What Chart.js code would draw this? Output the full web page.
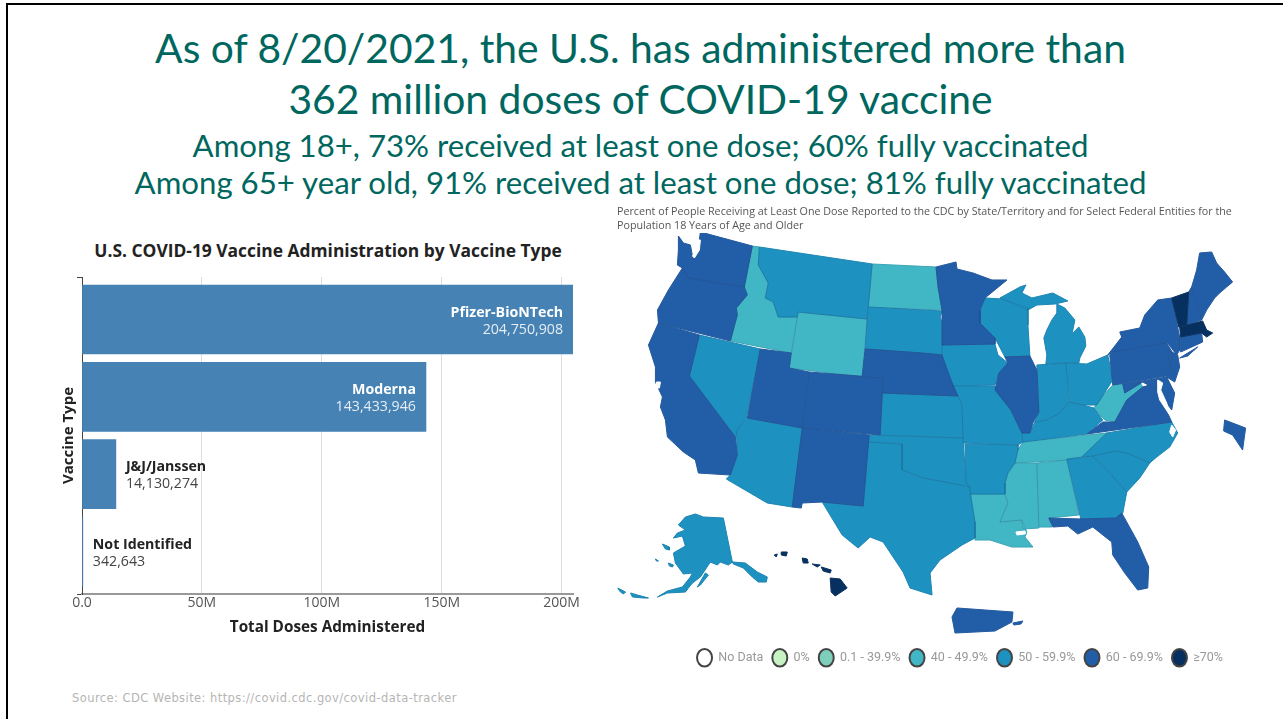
<!DOCTYPE html>
<html>
<head>
<meta charset="utf-8">
<title>COVID-19 vaccine doses</title>
<script src="https://cdn.jsdelivr.net/npm/chart.js@4"></script>
<style>
html, body { margin: 0; padding: 0; background: #fff; width: 1283px; height: 719px; overflow: hidden; }
#frameTop { position: absolute; left: 6px; top: 3px; right: 0; height: 2px; background: #000; }
#frameLeft { position: absolute; left: 6px; top: 3px; bottom: 0; width: 2px; background: #000; }
.head { position: absolute; left: 0; width: 1281px; text-align: center; color: #00675f; font-family: Lato, sans-serif; white-space: nowrap; }
.big { font-size: 40.8px; }
.small { font-size: 31.2px; }
#barTitle { position: absolute; left: 40px; top: 238px; width: 576px; height: 24px; text-align: center; font: bold 17.4px/24px "Open Sans", sans-serif; color: #222; white-space: nowrap; }
#source { position: absolute; left: 72px; top: 691px; font: 11.5px "DejaVu Sans", sans-serif; letter-spacing: 0.43px; color: #b5b5b5; white-space: nowrap; }
canvas { position: absolute; }
#barChart { left: 60px; top: 272px; }
#mapChart { left: 617px; top: 205px; }
</style>
</head>
<body>
<div id="frameTop"></div>
<div id="frameLeft"></div>
<div class="head big" style="top:23px">As of 8/20/2021, the U.S. has administered more than</div>
<div class="head big" style="top:74px">362 million doses of COVID-19 vaccine</div>
<div class="head small" style="top:126px">Among 18+, 73% received at least one dose; 60% fully vaccinated</div>
<div class="head small" style="top:163px">Among 65+ year old, 91% received at least one dose; 81% fully vaccinated</div>
<div id="barTitle">U.S. COVID-19 Vaccine Administration by Vaccine Type</div>
<canvas id="barChart" width="540" height="368"></canvas>
<canvas id="mapChart" width="686" height="469"></canvas>
<div id="source">Source: CDC Website: https://covid.cdc.gov/covid-data-tracker</div>
<script>
const vaccineTypes = ['Pfizer-BioNTech', 'Moderna', 'J&J/Janssen', 'Not Identified'];
const totalDoses = [204750908, 143433946, 14130274, 342643];
const doseTicks = [0, 50000000, 100000000, 150000000, 200000000];

const legendLabels = ['No Data', '0%', '0.1 - 39.9%', '40 - 49.9%', '50 - 59.9%', '60 - 69.9%', '≥70%'];
const legendColors = ['#ffffff', '#c7f2c4', '#7fcdbb', '#41b6c4', '#1d91c0', '#225ea8', '#06305f'];

// states per legend bin
const bin40 = ['ID', 'WY', 'ND', 'TN', 'MS', 'AL', 'LA', 'WV'];
const bin50 = ['NV', 'MT', 'AZ', 'SD', 'KS', 'OK', 'TX', 'IA', 'MO', 'AR', 'WI', 'MI', 'MI2', 'IN', 'OH', 'KY', 'NC', 'SC', 'GA', 'AK', 'AK2', 'AK3', 'AK4', 'AK5', 'AK6', 'AK7', 'AK8'];
const bin60 = ['WA', 'OR', 'CA', 'UT', 'CO', 'NM', 'NE', 'MN', 'IL', 'FL', 'NY', 'LI', 'PA', 'NJ', 'MD', 'VA', 'CT', 'ME', 'NH', 'PR', 'PR2', 'DC'];
const bin70 = ['VT', 'MA', 'HI', 'HI2', 'HI3', 'HI4', 'HI5', 'HI6'];

// outlines, x,y pairs in map units
const shapes = {
  WA: [678,236,683,243,690,245,692,256,697,250,699,240,700,232,752,246,744,287,716,283,700,280,688,278,682,268,677,265,678,250],
  OR: [682,268,688,278,700,280,716,283,744,287,747,295,736,308,737,315,730,341,658,323,657,310,668,290],
  CA: [658,323,699,335,689,376,735,437,737,455,730,475,698,473,695,460,683,452,667,437,665,420,660,407,662,397,655,382,655,367,648,345],
  NV: [699,335,760,349,746,418,737,430,735,437,689,376],
  ID: [752,246,759,247,758,265,768,283,765,298,773,302,778,317,797,317,791,353,730,341,737,315,736,308,747,295,744,287],
  MT: [759,247,872,264,867,319,798,312,797,317,778,317,773,302,765,298,768,283,758,265],
  ND: [872,264,936,267,938,287,942,310,868,307],
  SD: [868,307,942,311,940,317,943,325,942,355,922,353,865,349],
  WY: [798,312,867,319,862,377,789,368],
  NE: [865,349,922,353,942,355,948,372,953,385,958,396,882,393,883,378,862,377],
  UT: [760,349,791,353,789,368,809,372,802,428,747,418],
  CO: [809,372,883,378,880,435,802,428],
  AZ: [736,430,747,418,802,428,792,507,767,503,726,479,730,475,737,455],
  NM: [802,428,869,435,863,506,822,502,802,503,801,508,792,507],
  KS: [882,393,958,396,962,405,963,438,880,435],
  OK: [869,435,963,438,966,483,970,487,950,483,923,478,902,470,902,444,868,442],
  TX: [868,442,902,444,902,470,923,478,950,483,970,487,971,497,975,522,975,538,962,545,940,560,930,573,932,595,910,588,903,572,883,542,870,537,858,548,842,535,822,502,863,506],
  MN: [936,267,956,262,957,269,973,273,992,280,1007,280,985,298,980,310,980,323,995,338,995,344,942,345,942,325,942,310,938,287],
  IA: [942,345,995,344,998,355,1008,363,1007,368,999,373,995,385,952,386,942,358],
  WI: [985,298,1003,299,1028,308,1028,325,1030,356,1005,357,995,338,980,323,980,310],
  MI: [1000,298,1020,287,1026,285,1022,293,1032,298,1053,293,1068,301,1055,304,1037,305,1028,310],
  MI2: [1057,304,1065,308,1075,320,1073,330,1072,334,1079,327,1085,337,1086,346,1080,358,1079,363,1066,363,1046,364,1047,355,1044,338,1047,330,1052,320,1057,313],
  IL: [1005,357,1030,356,1037,370,1039,412,1033,423,1030,433,1022,433,1011,410,995,390,999,373,1008,363],
  IN: [1037,365,1066,363,1069,402,1060,413,1047,420,1035,422,1039,412],
  OH: [1066,363,1087,364,1108,355,1113,380,1097,405,1083,405,1070,402],
  KY: [1035,422,1047,420,1060,413,1069,402,1083,405,1094,408,1103,420,1087,434,1023,442,1022,433,1030,433],
  WV: [1113,385,1123,384,1125,393,1140,382,1143,387,1127,400,1115,422,1105,420,1094,408,1102,397],
  VA: [1087,434,1103,422,1115,422,1127,400,1143,387,1150,385,1158,388,1163,402,1172,422],
  MD: [1123,384,1167,377,1175,393,1172,410,1167,403,1158,390,1143,382,1125,393],
  PA: [1110,355,1113,352,1167,343,1173,353,1170,367,1167,376,1113,385],
  NY: [1108,355,1122,337,1120,332,1140,328,1145,315,1158,300,1172,298,1180,337,1180,350,1177,355,1168,343,1113,352],
  LI: [1180,358,1198,347,1188,356],
  NJ: [1168,350,1178,355,1180,367,1175,382,1167,377,1170,367],
  VT: [1172,298,1189,292,1187,325,1179,327],
  NH: [1189,292,1192,287,1202,320,1187,325],
  ME: [1197,270,1200,253,1212,252,1217,263,1225,272,1233,282,1227,287,1220,293,1215,298,1207,310,1202,320,1192,287],
  MA: [1180,327,1203,321,1207,330,1213,333,1207,337,1202,333,1181,337],
  CT: [1181,337,1202,333,1203,342,1181,352],
  DC: [1225,420,1246,428,1243,450,1233,435,1224,431],
  MO: [952,386,995,386,1011,410,1022,433,1023,442,1018,445,963,443,962,405,958,396],
  AR: [965,444,1018,445,1018,450,1015,463,1008,473,1005,483,1005,494,970,494,970,487,966,483],
  LA: [970,494,1005,494,1008,503,1000,522,1022,520,1027,532,1025,537,1033,547,1012,547,990,540,975,540,975,523],
  MS: [1015,463,1037,463,1039,528,1023,529,1022,520,1000,522,1008,503,1005,494,1005,483,1008,473],
  AL: [1037,463,1067,460,1079,515,1049,518,1052,527,1039,527],
  TN: [1023,442,1088,435,1107,433,1082,457,1067,460,1015,463,1018,450],
  NC: [1107,433,1172,422,1178,433,1170,447,1157,457,1150,463,1127,453,1115,451,1093,456,1082,457],
  SC: [1093,456,1115,451,1127,453,1150,463,1140,478,1127,492,1107,470],
  GA: [1067,459,1093,456,1107,470,1127,492,1123,513,1116,518,1081,519],
  FL: [1049,518,1081,519,1116,518,1122,513,1138,542,1149,567,1148,588,1138,590,1125,573,1113,555,1112,542,1093,527,1078,534,1068,526,1053,527],
  PR: [952,617,957,608,1013,612,1012,622,995,631,955,633],
  PR2: [1013,623,1023,621,1021,624,1014,625],
  AK: [678,525,685,517,695,514,703,517,723,518,732,562,728,565,720,562,717,565,710,562,708,565,700,577,692,583,688,588,685,592,667,593,657,597,667,591,682,587,690,577,692,573,683,574,675,563,673,553,685,546,682,536,673,538,677,533,685,530],
  AK2: [732,562,745,563,757,572,767,577,766,582,758,582,752,577,743,568,733,564],
  AK3: [630,593,637,595,648,598,643,598,632,597],
  AK4: [617,588,625,592,623,594,620,592],
  AK5: [662,544,669,547,669,550,665,549],
  AK6: [705,573,708,575,700,585,697,587],
  AK7: [655,559,658,561,656,561],
  AK8: [668,563,673,565,672,567,669,566],
  HI: [830,578,840,579,847,588,835,596,831,592],
  HI2: [821,567,831,570,830,573,823,571],
  HI3: [812,564,820,565,817,567],
  HI4: [802,558,807,559,808,563,803,563],
  HI5: [781,552,787,552,786,556,781,555],
  HI6: [774,555,777,554,776,557]
};
// bays cut back out of the land
const water = [
  [692,256,696,250,698,240,700,240,699,250,694,258],
  [1158,380,1163,383,1161,390,1167,403,1170,415,1160,400,1158,392],
  [1172,425,1176,430,1173,437,1170,432],
  [656,382,660,382,659,388,656,388],
  [1016,532,1025,531,1025,534,1017,535]
];

function toPoints(flat) {
  var pts = [];
  for (var i = 0; i < flat.length; i += 2) {
    pts.push({ x: flat[i], y: flat[i + 1] });
  }
  pts.push({ x: flat[0], y: flat[1] });
  return pts;
}

function shapeDataset(flat, color) {
  return {
    data: toPoints(flat),
    showLine: true,
    fill: 'shape',
    backgroundColor: color,
    borderColor: color,
    borderWidth: 1,
    tension: 0,
    pointRadius: 0
  };
}

// thin state line on top of the fills
function borderDataset(flat) {
  return {
    data: toPoints(flat),
    showLine: true,
    fill: false,
    borderColor: 'rgba(50,70,100,0.3)',
    borderWidth: 0.5,
    tension: 0,
    pointRadius: 0
  };
}

// value labels sit on the bars
const barLabels = {
  id: 'barLabels',
  afterDatasetsDraw(chart) {
    const ctx = chart.ctx;
    const bars = chart.getDatasetMeta(0).data;
    ctx.save();
    bars.forEach((bar, i) => {
      const inside = totalDoses[i] > 100000000;
      const x = inside ? bar.x - 10 : bar.x + 10;
      ctx.textAlign = inside ? 'right' : 'left';
      ctx.textBaseline = 'middle';
      ctx.fillStyle = inside ? '#ffffff' : '#222222';
      ctx.font = 'bold 14.2px "Open Sans"';
      ctx.fillText(vaccineTypes[i], x, bar.y - 7);
      ctx.fillStyle = inside ? '#e6edf4' : '#444444';
      ctx.font = '14.2px "Open Sans"';
      ctx.fillText(totalDoses[i].toLocaleString('en-US'), x, bar.y + 10);
    });
    ctx.restore();
  }
};

var barChart = new Chart(document.getElementById('barChart'), {
  type: 'bar',
  data: {
    datasets: [{
      data: totalDoses.map((v, i) => ({ x: v, y: i })),
      backgroundColor: '#4682b4',
      barThickness: 69
    }]
  },
  options: {
    indexAxis: 'y',
    responsive: false,
    animation: false,
    layout: { padding: { top: 5, right: 27 } },
    plugins: {
      legend: { display: false },
      tooltip: { enabled: false }
    },
    scales: {
      x: {
        type: 'linear',
        min: 0,
        max: totalDoses[0],
        afterFit: (s) => { s.height = 46; },
        afterBuildTicks: (s) => { s.ticks = doseTicks.map((v) => ({ value: v })); },
        grid: { color: '#dddddd', drawTicks: false },
        border: { color: '#999999', width: 2 },
        ticks: {
          padding: 1,
          maxRotation: 0,
          autoSkip: false,
          color: '#555',
          font: { family: 'Open Sans', size: 14 },
          callback: (v) => (v === 0 ? '0.0' : v / 1000000 + 'M')
        },
        title: {
          display: true,
          text: 'Total Doses Administered',
          color: '#222',
          font: { family: 'Open Sans', size: 15.3, weight: 'bold' },
          padding: { top: 4, bottom: 3 }
        }
      },
      y: {
        type: 'linear',
        reverse: true,
        offset: false,
        min: -0.55,
        max: 3.55,
        afterFit: (s) => { s.width = 22; },
        afterBuildTicks: (s) => { s.ticks = [{ value: -0.55 }, { value: 3.55 }]; },
        grid: { offset: false, drawOnChartArea: false, color: '#444', tickLength: 5 },
        border: { color: '#444' },
        ticks: { display: false },
        title: {
          display: true,
          text: 'Vaccine Type',
          color: '#222',
          font: { family: 'Open Sans', size: 15, weight: 'bold' },
          padding: { top: 0, bottom: 0 }
        }
      }
    }
  },
  plugins: [barLabels]
});

// first dataset is drawn last, so water and state lines go in front
var mapSets = [];
water.forEach((w) => mapSets.push(shapeDataset(w, '#ffffff')));
var fillSets = [];
[[bin70, 6], [bin60, 5], [bin50, 4], [bin40, 3]].forEach((b) => {
  b[0].forEach((name) => {
    mapSets.push(borderDataset(shapes[name]));
    fillSets.push(shapeDataset(shapes[name], legendColors[b[1]]));
  });
});
mapSets = mapSets.concat(fillSets);

var mapCanvas = document.getElementById('mapChart');
var mapChart = new Chart(mapCanvas, {
  type: 'scatter',
  data: { datasets: mapSets },
  options: {
    responsive: false,
    animation: false,
    plugins: {
      tooltip: { enabled: false },
      title: {
        display: true,
        align: 'start',
        text: [
          'Percent of People Receiving at Least One Dose Reported to the CDC by State/Territory and for Select Federal Entities for the',
          'Population 18 Years of Age and Older'
        ],
        color: '#555',
        font: { family: 'Open Sans', size: 10.73, weight: 'normal', lineHeight: 1.31 },
        padding: { top: 0, bottom: 0 }
      },
      legend: {
        position: 'bottom',
        labels: {
          usePointStyle: true,
          boxHeight: 13.5,
          pointStyleWidth: 15,
          padding: 9,
          color: '#999',
          font: { family: 'Roboto', size: 12.5 },
          generateLabels: () => legendLabels.map((t, i) => ({
            text: t,
            fillStyle: legendColors[i],
            strokeStyle: '#444444',
            lineWidth: 2,
            pointStyle: 'circle',
            fontColor: '#999'
          }))
        }
      }
    },
    scales: {
      x: { type: 'linear', display: false, min: 0, max: 686 },
      y: { type: 'linear', display: false, reverse: true, min: 0, max: 400 }
    }
  }
});
// one map unit = one pixel on the page
var area = mapChart.chartArea;
mapChart.options.scales.x.min = mapCanvas.offsetLeft + area.left;
mapChart.options.scales.x.max = mapCanvas.offsetLeft + area.right;
mapChart.options.scales.y.min = mapCanvas.offsetTop + area.top;
mapChart.options.scales.y.max = mapCanvas.offsetTop + area.bottom;
mapChart.update();
</script>
</body>
</html>
